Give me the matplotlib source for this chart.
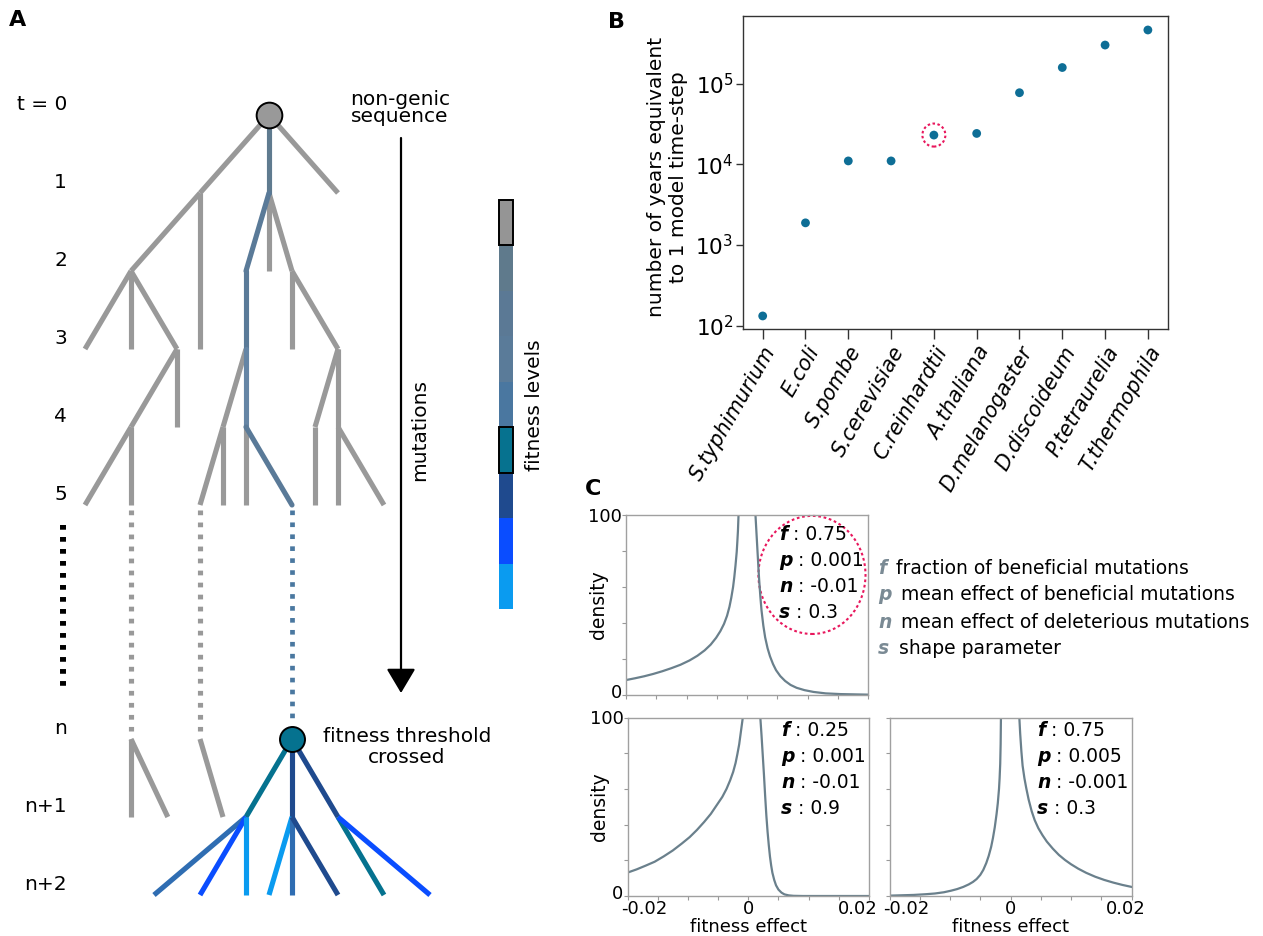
import matplotlib
matplotlib.use('Agg')
import matplotlib.pyplot as plt
from matplotlib.patches import Ellipse
import matplotlib.transforms as mtransforms
import numpy as np

plt.rcParams['font.family'] = ['DejaVu Sans']

# ---------------- DATA ----------------
# Panel A : tree (column, generation-level)
gen_labels = ['t = 0', '1', '2', '3', '4', '5', 'n', 'n+1', 'n+2']
gen_levels = [0, 1, 2, 3, 4, 5, 8, 9, 10]

grey_edges = [
    ((0, 0), (-3, 1)), ((-3, 1), (-6, 2)), ((-3, 1), (-3, 3)), ((0, 0), (3, 1)),
    ((0, 1), (0, 2)), ((0, 1), (1, 2)), ((1, 2), (1, 3)), ((1, 2), (3, 3)),
    ((-6, 2), (-8, 3)), ((-6, 2), (-6, 3)), ((-6, 2), (-4, 3)),
    ((-4, 3), (-4, 4)), ((-4, 3), (-6, 4)), ((-6, 4), (-8, 5)), ((-6, 4), (-6, 5)),
    ((-1, 3), (-2, 4)), ((-2, 4), (-3, 5)), ((-2, 4), (-2, 5)), ((-1, 4), (-1, 5)),
    ((3, 3), (2, 4)), ((2, 4), (2, 5)), ((3, 3), (3, 5)), ((3, 4), (5, 5)),
    ((-6, 8), (-6, 9)), ((-6, 8), (-4.4, 9)), ((-3, 8), (-2, 9)),
]
grey_dotted = [((-6, 5), (-6, 8)), ((-3, 5), (-3, 8))]

lineage_path = [(0, 0), (0, 1), (-1, 2), (-1, 3), (-1, 4), (1, 5)]
lineage_cols = ['#5f7b8f', '#5a7a98', '#5a7a98', '#6585a5', '#5a7a98']
lineage_dotted = ((1, 5), (1, 8))

C_TEAL, C_DARK, C_BLUE, C_LIGHT, C_STEEL = '#05728f', '#1f4a8e', '#0a4dff', '#0a9bf0', '#2f6db2'
fit_edges = [
    ((1, 8), (-1, 9), C_TEAL), ((1, 8), (1, 9), C_DARK), ((1, 8), (3, 9), C_DARK),
    ((-1, 9), (-5, 10), C_STEEL), ((-1, 9), (-3, 10), C_BLUE), ((-1, 9), (-1, 10), C_LIGHT),
    ((1, 9), (0, 10), C_LIGHT), ((1, 9), (1, 10), C_STEEL), ((1, 9), (3, 10), C_DARK),
    ((3, 9), (5, 10), C_TEAL), ((3, 9), (7, 10), C_BLUE),
]
root_node = (0, 0)
threshold_node = (1, 8)

fitness_colors = ['#959595', '#5f7a8c', '#5b7995', '#5a7b99', '#4a77a0',
                  '#06728f', '#1f4a8e', '#0a4dff', '#0a9bf0']
fitness_outlined = [0, 5]

# Panel B
species = ['S.typhimurium', 'E.coli', 'S.pombe', 'S.cerevisiae', 'C.reinhardtii',
           'A.thaliana', 'D.melanogaster', 'D.discoideum', 'P.tetraurelia', 'T.thermophila']
years = [132, 1880, 11000, 11000, 23000, 24100, 77000, 158000, 300000, 461000]
highlight_species = 'C.reinhardtii'

# Panel C : density curves
tl_left_x = [-0.0200, -0.0185, -0.0170, -0.0155, -0.0140, -0.0125, -0.0110, -0.0095, -0.0082,
             -0.0070, -0.0060, -0.0051, -0.0044, -0.0038, -0.0033, -0.0029, -0.0026, -0.0023,
             -0.0021, -0.0019, -0.0017, -0.0016, -0.0015, -0.0014]
tl_left_y = [8.3, 9.3, 10.4, 11.7, 13.2, 14.9, 16.8, 19.2, 21.8,
             24.8, 28.0, 31.8, 35.5, 39.5, 44.0, 49.0, 54.0, 60.0,
             65.5, 72.0, 79.5, 85.0, 91.0, 100]
tl_right_x = [0.0014, 0.0015, 0.0016, 0.0017, 0.0018, 0.0019, 0.0020, 0.0022, 0.0024,
              0.0027, 0.0030, 0.0034, 0.0038, 0.0043, 0.0048, 0.0055, 0.0063, 0.0072,
              0.0082, 0.0095, 0.0110, 0.0130, 0.0155, 0.0200]
tl_right_y = [100, 94, 88, 82, 76, 70, 64.5, 55, 47,
              38.5, 32, 26, 21.5, 17.2, 13.8, 10.5, 7.8, 5.6,
              4.0, 2.7, 1.7, 0.9, 0.5, 0.2]

bl_left_x = [-0.0200, -0.0185, -0.0170, -0.0155, -0.0140, -0.0125, -0.0110, -0.0097, -0.0085,
             -0.0073, -0.0062, -0.0052, -0.0043, -0.0036, -0.0030, -0.0025, -0.0021, -0.0018,
             -0.0015, -0.0013, -0.0011, -0.0009]
bl_left_y = [13.1, 14.9, 17.0, 19.2, 22.2, 25.5, 29.4, 33.0, 37.0,
             41.5, 46.0, 51.0, 55.5, 60.0, 64.8, 69.5, 74.5, 79.5,
             85.0, 90.0, 95.0, 100]
bl_right_x = [0.0020, 0.0022, 0.0024, 0.0026, 0.0028, 0.0030, 0.0032, 0.0034, 0.0036,
              0.0038, 0.0040, 0.0043, 0.0046, 0.0050, 0.0055, 0.0060, 0.0067, 0.0075,
              0.0090, 0.0200]
bl_right_y = [100, 90, 79, 68, 56, 45, 36, 28.5, 22,
              17, 13, 9, 6, 3.6, 1.9, 0.9, 0.35, 0.1,
              0.0, 0.0]

br_left_x = [-0.0200, -0.0180, -0.0160, -0.0140, -0.0125, -0.0110, -0.0098, -0.0088, -0.0078,
             -0.0069, -0.0062, -0.0056, -0.0050, -0.0045, -0.0040, -0.0036, -0.0032, -0.0029,
             -0.0026, -0.0023, -0.0021, -0.0019, -0.0018, -0.0017, -0.00163, -0.00158]
br_left_y = [0.2, 0.4, 0.6, 1.0, 1.4, 2.1, 3.0, 3.9, 5.1,
             6.5, 7.9, 9.5, 11.8, 14.6, 18.5, 22.5, 27.5, 32.5,
             38.5, 46.0, 52.0, 60.0, 66.0, 74.0, 85.0, 100]
br_right_x = [0.00146, 0.0016, 0.0018, 0.0020, 0.0023, 0.0026, 0.0030, 0.0035, 0.0040,
              0.0046, 0.0053, 0.0060, 0.0070, 0.0080, 0.0090, 0.0100, 0.0112, 0.0125,
              0.0140, 0.0155, 0.0170, 0.0185, 0.0200]
br_right_y = [100, 91, 81, 73, 66, 60.5, 54, 47.5, 42.5,
              38, 34, 30.5, 26.5, 23.0, 20.2, 17.8, 15.3, 13.0,
              10.8, 9.0, 7.5, 6.2, 5.1]

param_letters = ['f', 'p', 'n', 's']
tl_params = ['0.75', '0.001', '-0.01', '0.3']
bl_params = ['0.25', '0.001', '-0.01', '0.9']
br_params = ['0.75', '0.005', '-0.001', '0.3']
param_desc = ['fraction of beneficial mutations', 'mean effect of beneficial mutations',
              'mean effect of deleterious mutations', 'shape parameter']

# ---------------- FIGURE ----------------
W, H = 1263, 936
fig = plt.figure(figsize=(W / 100, H / 100), dpi=100)


def fx(px):
    return px / W


def fy(py):
    return 1 - py / H


def shift(artist, dx, dy):
    artist.set_transform(artist.get_transform() +
                         mtransforms.ScaledTranslation(dx / 100, dy / 100, fig.dpi_scale_trans))


# ---- Panel A ----
COL0, COLW, LEV0, LEVH = 269, 23, 115, 78
axA = fig.add_axes([0, 0, 1, 1])
axA.set_axis_off()
axA.set_xlim(-COL0 / COLW, (W - COL0) / COLW)
axA.set_ylim((H - LEV0) / LEVH, -LEV0 / LEVH)


def ax_(px):
    return (px - COL0) / COLW


def ay_(py):
    return (py - LEV0) / LEVH


GREY = '#999999'
LW = 3.7
for a, b in grey_edges:
    axA.plot([a[0], b[0]], [a[1], b[1]], color=GREY, lw=LW, solid_capstyle='butt', zorder=2)
for a, b in grey_dotted:
    axA.plot([a[0], b[0]], [a[1] + 0.07, b[1] - 0.1], color=GREY, lw=LW,
             linestyle=(0, (0.92, 1.42)), dash_capstyle='butt', zorder=2)
for i in range(len(lineage_path) - 1):
    a, b = lineage_path[i], lineage_path[i + 1]
    axA.plot([a[0], b[0]], [a[1], b[1]], color=lineage_cols[i], lw=LW,
             solid_capstyle='round', zorder=3)
a, b = lineage_dotted
axA.plot([a[0], b[0]], [a[1] + 0.07, b[1] - 0.2], color='#4a78a0', lw=3.4,
         linestyle=(0, (0.98, 1.55)), dash_capstyle='butt', zorder=2)
for a, b, c in fit_edges:
    axA.plot([a[0], b[0]], [a[1], b[1]], color=c, lw=LW, solid_capstyle='butt', zorder=2)

axA.plot(*root_node, 'o', ms=18.5, mfc='#999999', mec='k', mew=1.4, zorder=5)
axA.plot(*threshold_node, 'o', ms=18, mfc='#05728f', mec='k', mew=1.4, zorder=5)

# generation labels
for lab, lev in zip(gen_labels, gen_levels):
    axA.text(ax_(67), lev - 0.13, lab, ha='right', va='center', fontsize=14.5)

# ellipsis column
axA.plot([ax_(63), ax_(63)], [ay_(525), ay_(686)], color='k', lw=4.3,
         linestyle=(0, (0.79, 1.22)), dash_capstyle='butt')

# arrow "mutations"
axA.annotate('', xy=(ax_(401), ay_(693)), xytext=(ax_(401), ay_(138)),
             arrowprops=dict(arrowstyle='-|>,head_length=0.42,head_width=0.25',
                             lw=1.6, color='k', mutation_scale=36, shrinkA=0, shrinkB=0))
axA.text(ax_(420), ay_(430), 'mutations', rotation=90, ha='center', va='center', fontsize=14.5)
axA.text(ax_(400), ay_(108), 'non-genic\nsequence', ha='center', va='center',
         fontsize=14.5, linespacing=0.9)
axA.text(ax_(407), ay_(747), 'fitness threshold\ncrossed', ha='center', va='center',
         fontsize=14.5, linespacing=1.15, multialignment='center')

# fitness level bar
seg = 45.5 / LEVH
xc = ax_(506)
bw = 14 / COLW
bottoms = [ay_(199.5) + i * seg for i in range(len(fitness_colors))]
axA.bar([xc] * len(fitness_colors), [seg] * len(fitness_colors), bottom=bottoms, width=bw,
        color=fitness_colors, edgecolor='none', zorder=2)
for i in fitness_outlined:
    axA.bar([xc], [seg], bottom=[bottoms[i]], width=bw, color=fitness_colors[i],
            edgecolor='k', linewidth=1.4, zorder=3)
axA.text(ax_(534), ay_(405), 'fitness levels', rotation=90, ha='center', va='center', fontsize=14.5)

# panel letters
fig.text(fx(18), fy(20), 'A', fontsize=16, fontweight='bold', ha='center', va='center')
fig.text(fx(616), fy(22), 'B', fontsize=16, fontweight='bold', ha='center', va='center')
fig.text(fx(593), fy(489), 'C', fontsize=16, fontweight='bold', ha='center', va='center')

# ---- Panel B ----
axB = fig.add_axes([fx(743), fy(329), (1168 - 743) / W, (329 - 16) / H])
xs = np.arange(len(species))
axB.scatter(xs, years, s=40, color='#0e6e96', zorder=3, edgecolors='none')
axB.set_yscale('log')
axB.set_ylim(10 ** 1.959, 10 ** 5.837)
axB.set_xlim(-0.46, len(species) - 0.53)
axB.set_xticks(xs)
axB.set_xticklabels(species, rotation=60, ha='right', rotation_mode='anchor',
                    style='italic', fontsize=14.8)
axB.set_yticks([1e2, 1e3, 1e4, 1e5])
axB.yaxis.set_minor_locator(matplotlib.ticker.NullLocator())
axB.tick_params(axis='y', labelsize=15.5, length=5, width=1, color='#333333', pad=2)
axB.tick_params(axis='x', length=7, width=1, color='#333333', pad=3)
for sp in axB.spines.values():
    sp.set_color('#333333')
    sp.set_linewidth(1.0)
axB.set_ylabel('number of years equivalent\nto 1 model time-step', fontsize=14.5)
axB.yaxis.set_label_coords(-0.13, 0.485)
hi = species.index(highlight_species)
tr = fig.dpi_scale_trans + mtransforms.ScaledTranslation(xs[hi], years[hi], axB.transData)
axB.add_patch(Ellipse((0, 0), 0.23, 0.23, transform=tr, fill=False, ec='#e8175d',
                      lw=1.5, ls=(0, (1.2, 1.2)), zorder=4))

# ---- Panel C ----
CURVE = '#6a808c'
xt = [-0.02, -0.015, -0.01, -0.005, 0, 0.005, 0.01, 0.015, 0.02]
xtl = ['-0.02', '', '', '', '0', '', '', '', '0.02']
yt = [0, 20, 40, 60, 80, 100]
ytl = ['0', '', '', '', '', '100']


def setup_c(ax, show_x, show_y, edge_shift=(0, 0)):
    ax.set_xlim(-0.02, 0.02)
    ax.set_ylim(0, 100)
    ax.set_xticks(xt)
    ax.set_xticklabels(xtl if show_x else [''] * len(xt))
    ax.set_yticks(yt)
    ax.set_yticklabels(ytl if show_y else [''] * len(yt))
    ax.tick_params(length=2.8, width=0.8, color='#999999', labelsize=13)
    ax.tick_params(axis='y', pad=0)
    ax.tick_params(axis='x', pad=0)
    for sp in ax.spines.values():
        sp.set_color('#a0a0a0')
        sp.set_linewidth(1.0)
    if show_x:
        ax.set_xlabel('fitness effect', fontsize=13, labelpad=0)
        labs = ax.get_xticklabels()
        shift(labs[0], edge_shift[0], 0)
        shift(labs[-1], edge_shift[1], 0)
    if show_y:
        ax.set_ylabel('density', fontsize=13.5)
        ax.yaxis.set_label_coords(-0.075, 0.5)
        shift(ax.get_yticklabels()[0], 0, 4)


def params_text(ax, x_px, y_pxs, values):
    for letter, val, ypx in zip(param_letters, values, y_pxs):
        t = fig.text(fx(x_px), fy(ypx), letter, fontsize=13.5, fontweight='bold',
                     style='italic', ha='left', va='center')
        ax.annotate(': ' + val, xy=(1, 0), xycoords=t, xytext=(4, 0),
                    textcoords='offset points', ha='left', va='bottom', fontsize=13.5)


axC1 = fig.add_axes([fx(626), fy(695), 242 / W, 180 / H])
axC1.plot(tl_left_x, tl_left_y, color=CURVE, lw=1.6)
axC1.plot(tl_right_x, tl_right_y, color=CURVE, lw=1.6)
setup_c(axC1, False, True)
params_text(axC1, 779, [534, 561, 587, 613], tl_params)
axC1.add_patch(Ellipse((0.01074, 66.7), 0.0177, 65.6, fill=False, ec='#e8175d', lw=1.5,
                       ls=(0, (1.3, 1.3)), clip_on=False))

axC2 = fig.add_axes([fx(627.5), fy(896), 241.5 / W, 178.5 / H])
axC2.plot(bl_left_x, bl_left_y, color=CURVE, lw=1.6)
axC2.plot(bl_right_x, bl_right_y, color=CURVE, lw=1.6)
setup_c(axC2, True, True, edge_shift=(17, -11))
params_text(axC2, 781, [730, 756, 782, 808], bl_params)

axC3 = fig.add_axes([fx(889.5), fy(896), 242 / W, 178.5 / H])
axC3.plot(br_left_x, br_left_y, color=CURVE, lw=1.6)
axC3.plot(br_right_x, br_right_y, color=CURVE, lw=1.6)
setup_c(axC3, True, False, edge_shift=(17, -6))
params_text(axC3, 1037, [730, 756, 782, 808], br_params)

# legend of parameters
for letter, desc, ypx in zip(param_letters, param_desc, [568, 595, 622, 648]):
    t = fig.text(fx(878), fy(ypx), letter, fontsize=13.5, fontweight='bold', style='italic',
                 color='#7a8a94', ha='left', va='center')
    axA.annotate(desc, xy=(1, 0), xycoords=t, xytext=(7, 0), textcoords='offset points',
                 ha='left', va='bottom', fontsize=13.5)

fig.savefig('out.png', dpi=100)
